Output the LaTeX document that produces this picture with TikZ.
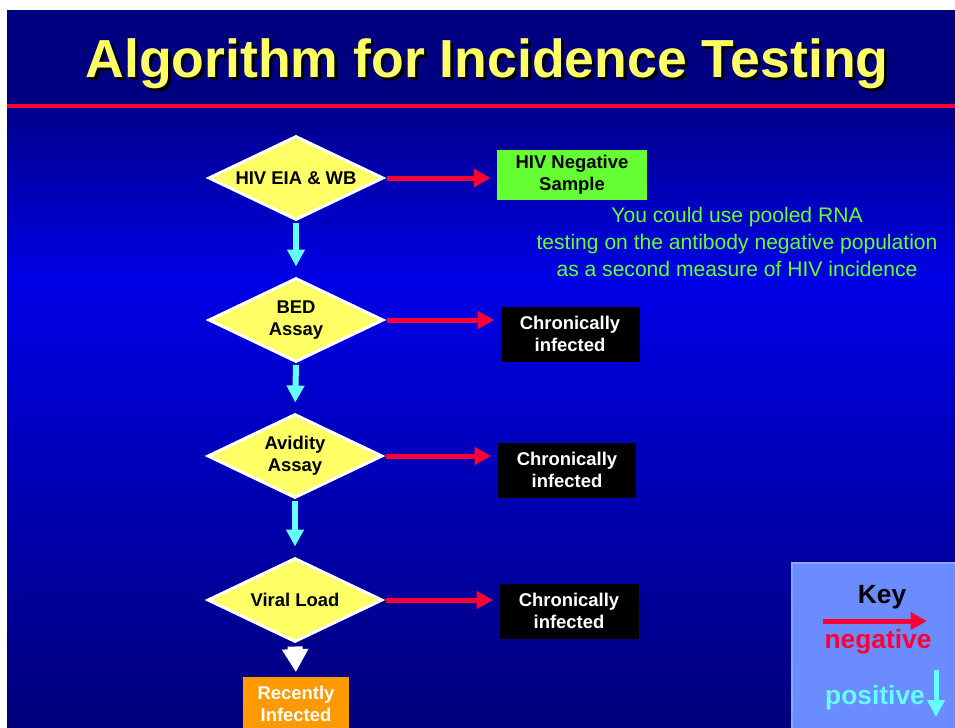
\documentclass[tikz,border=0pt]{standalone}
\usepackage{fontspec}
\setmainfont{Liberation Sans}
\usepackage{xcolor}
\usetikzlibrary{arrows.meta, shapes.geometric}
\definecolor{navy}{HTML}{000080}
\definecolor{bgtop}{HTML}{00008C}
\definecolor{bgmid}{HTML}{0000E6}
\definecolor{bgbot}{HTML}{00007A}
\definecolor{negred}{HTML}{FF0033}
\definecolor{poscyan}{HTML}{66FFFF}
\definecolor{testyellow}{HTML}{FFFF66}
\definecolor{neggreen}{HTML}{66FF33}
\definecolor{recorange}{HTML}{FF9900}
\definecolor{keyblue}{HTML}{6B8CFF}
\definecolor{keyedge}{HTML}{8FA6FF}
\tikzset{
  test/.style    ={diamond, aspect=2.1, draw=white, line width=0.06cm, fill=testyellow,
                   minimum width=3.5cm, minimum height=1.68cm, inner sep=0pt,
                   align=center, font=\fontsize{10.5}{12.5}\selectfont\bfseries},
  result/.style  ={rectangle, fill=black, text=white, minimum width=2.78cm,
                   minimum height=1.1cm, align=center,
                   font=\fontsize{10.5}{12.5}\selectfont\bfseries},
  negarrow/.style={-{Triangle[length=0.33cm, width=0.34cm]}, line width=0.1cm, negred},
  posarrow/.style={-{Triangle[length=0.34cm, width=0.34cm]}, line width=0.12cm, poscyan},
  keytxt/.style  ={font=\fontsize{15}{18}\selectfont\bfseries, inner sep=0pt}
}
\begin{document}
\begin{tikzpicture}[
  x=0.02cm, y=-0.02cm,
  title/.style={font=\fontsize{30.5}{36}\selectfont\bfseries, anchor=base, inner sep=0pt},
  note/.style ={font=\fontsize{12}{15.3}\selectfont, text=neggreen, align=center},
  done/.style ={-{Triangle[length=0.46cm, width=0.5cm]}, line width=0.3cm, white}
]
\useasboundingbox (0,0) rectangle (955,727);
\fill[white] (0,0) rectangle (955,727);

% Slide background
\fill[navy] (7,10) rectangle (955,104);
\fill[negred] (7,104) rectangle (955,108);
\shade[top color=bgtop, bottom color=bgmid] (7,108) rectangle (955,281);
\shade[top color=bgmid, bottom color=bgbot] (7,280) rectangle (955,727);

% Title (with drop shadow)
\node[title, text=black]      (shadow) at (490,80) {Algorithm for Incidence Testing};
\node[title, text=testyellow] (title)  at (487,77) {Algorithm for Incidence Testing};

% Tests
\node[test] (eia)  at (296,178) {HIV EIA \& WB};
\node[test] (bed)  at (296,320) {BED\\Assay};
\node[test] (avid) at (295,456) {Avidity\\Assay};
\node[test] (vl)   at (295,600) {Viral Load};

% Outcomes
\node[result, fill=neggreen, text=black, minimum width=3cm, minimum height=0.92cm]
      (negs) at (572,175) {HIV Negative\\Sample};
\node[result] (chr1) at (570,334) {Chronically\\infected};
\node[result] (chr2) at (567,470) {Chronically\\infected};
\node[result] (chr3) at (569,611) {Chronically\\infected};
\node[result, fill=recorange, minimum width=2.14cm] (rec) at (296,704) {Recently\\Infected};

% Note on the negative population
\node[note] (note) at (737,242) {You could use pooled RNA\\
  testing on the antibody negative population\\as a second measure of HIV incidence};

% Negative results (to the right)
\foreach \d/\r in {eia/negs, bed/chr1, avid/chr2, vl/chr3}{
  \draw[negarrow, shorten <=0.05cm, shorten >=0.12cm] (\d.east) -- (\d.east -| \r.west);
}

% Positive results (downwards)
\foreach \a/\b in {eia/bed, bed/avid, avid/vl}{
  \draw[posarrow, shorten <=0.03cm, shorten >=0.2cm] (\a.south) -- (\b.north);
}
\draw[done, shorten <=0.06cm, shorten >=0.08cm] (vl.south) -- (rec.north);

% Key
\draw[fill=keyblue, draw=keyedge, line width=0.8pt] (792,563) rectangle (962,735);
\node[keytxt]                (key)     at (882,597) {Key};
\node[keytxt, text=negred]   (negword) at (878,642) {negative};
\node[keytxt, text=poscyan]  (posword) at (875,698) {positive};
\coordinate (nega) at (823,621);
\coordinate (negb) at (927,621);
\coordinate (posa) at (936,670);
\coordinate (posb) at (936,717);
\draw[negarrow] (nega) -- (negb);
\draw[posarrow, line width=0.1cm] (posa) -- (posb);
\end{tikzpicture}
\end{document}
